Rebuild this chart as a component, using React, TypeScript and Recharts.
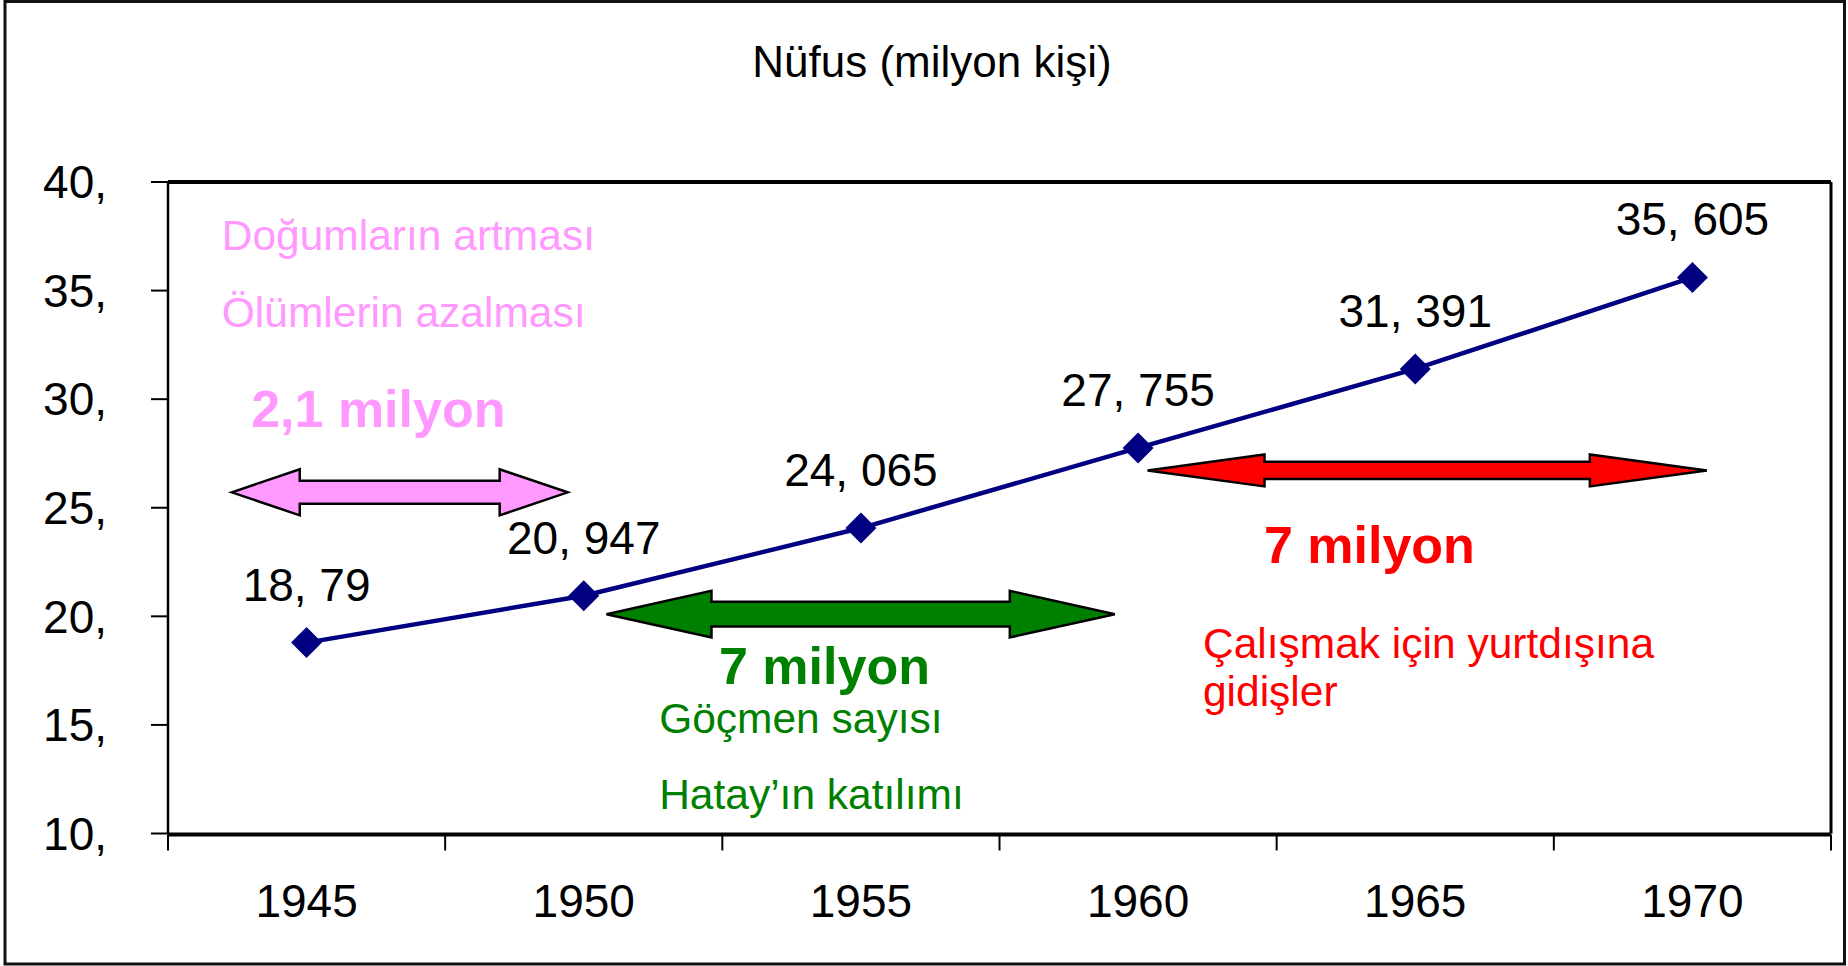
import React from 'react';
import { LineChart, Line, XAxis, YAxis, ReferenceLine, ReferenceDot, LabelList } from 'recharts';

const chartTitle = 'Nüfus (milyon kişi)';
const years = [1945, 1950, 1955, 1960, 1965, 1970];
const population = [18.79, 20.947, 24.065, 27.755, 31.391, 35.605];
const pointLabels = ['18, 79', '20, 947', '24, 065', '27, 755', '31, 391', '35, 605'];
const yTicks = [10, 15, 20, 25, 30, 35, 40];
const yDomain = [10, 40];
const xBoundaryTicks = [1942.5, 1947.5, 1952.5, 1957.5, 1962.5, 1967.5, 1972.5];
const xDomain = [1942.5, 1972.5];

// double arrows (data space): start year, end year, level
const arrowStart = [1943.65, 1950.41, 1960.17];
const arrowEnd = [1949.71, 1959.58, 1970.26];
const arrowLevel = [25.71, 20.1, 26.72];

// annotation texts (data space anchor: left x year, baseline value)
const noteTexts = [
  'Doğumların artması',
  'Ölümlerin azalması',
  '2,1 milyon',
  '7 milyon',
  'Göçmen sayısı',
  'Hatay’ın katılımı',
  '7 milyon',
  'Çalışmak için yurtdışına',
  'gidişler',
];
const noteX = [1943.47, 1943.47, 1944.0, 1952.44, 1951.36, 1951.36, 1962.27, 1961.17, 1961.17];
const noteY = [36.89, 33.34, 28.74, 16.88, 14.65, 11.13, 22.47, 18.1, 15.88];

// styles
const FONT = '"Liberation Sans", Arial, Helvetica, sans-serif';
const PINK = '#FF99FF';
const GREEN = '#008000';
const RED = '#FF0000';
const NAVY = '#000080';
const LABEL_SIZE = 46;
const arrowStyles = [
  { fill: PINK, head: 68, headHalf: 23, shaftHalf: 11.5 },
  { fill: GREEN, head: 105, headHalf: 23.3, shaftHalf: 12.3 },
  { fill: RED, head: 117, headHalf: 16, shaftHalf: 8.7 },
];
const noteStyles = [
  { fill: PINK, size: 42.5, weight: 400 },
  { fill: PINK, size: 42.5, weight: 400 },
  { fill: PINK, size: 52, weight: 700 },
  { fill: GREEN, size: 52, weight: 700 },
  { fill: GREEN, size: 42.5, weight: 400 },
  { fill: GREEN, size: 42.5, weight: 400 },
  { fill: RED, size: 52, weight: 700 },
  { fill: RED, size: 42.5, weight: 400 },
  { fill: RED, size: 42.5, weight: 400 },
];

const data = years.map((year, i) => ({ year, pop: population[i], label: pointLabels[i] }));

const ArrowShape = (props: any, st: any) => {
  const { x1, x2, y1 } = props;
  if (x1 == null || x2 == null || y1 == null) return <g />;
  const l = Math.min(x1, x2);
  const r = Math.max(x1, x2);
  const y = y1;
  const { head, headHalf, shaftHalf } = st;
  const pts = [
    [l, y],
    [l + head, y - headHalf],
    [l + head, y - shaftHalf],
    [r - head, y - shaftHalf],
    [r - head, y - headHalf],
    [r, y],
    [r - head, y + headHalf],
    [r - head, y + shaftHalf],
    [l + head, y + shaftHalf],
    [l + head, y + headHalf],
  ]
    .map((p) => p.join(','))
    .join(' ');
  return <polygon points={pts} fill={st.fill} stroke="#000" strokeWidth={2.5} strokeLinejoin="miter" />;
};

const Diamond = (p: any) => {
  const { cx, cy, index } = p;
  if (cx == null || cy == null) return <g key={index} />;
  const h = 15.5;
  return (
    <polygon
      key={`d${index}`}
      points={`${cx},${cy - h} ${cx + h},${cy} ${cx},${cy + h} ${cx - h},${cy}`}
      fill={NAVY}
    />
  );
};

const YearTick = (p: any) => (
  <text
    x={p.x}
    y={p.y + 83}
    textAnchor="middle"
    fill="#000"
    fontSize={LABEL_SIZE}
    fontFamily={FONT}
  >
    {p.payload.value}
  </text>
);

const EmptyTick = () => <g />;

export default function App() {
  return (
    <div style={{ position: 'absolute', left: 0, top: 0, width: 1848, height: 966, background: '#fff' }}>
      <LineChart
        width={1848}
        height={966}
        data={data}
        margin={{ top: 182, right: 17, bottom: 31.5, left: 68 }}
      >
        <XAxis
          type="number"
          dataKey="year"
          domain={xDomain}
          allowDataOverflow
          ticks={years}
          interval={0}
          tick={YearTick}
          tickLine={false}
          axisLine={false}
          tickSize={0}
          tickMargin={0}
          height={1}
        />
        <XAxis
          xAxisId="ticks"
          type="number"
          dataKey="year"
          domain={xDomain}
          allowDataOverflow
          ticks={xBoundaryTicks}
          interval={0}
          tick={EmptyTick}
          tickSize={16}
          tickLine={{ stroke: '#000', strokeWidth: 2 }}
          axisLine={{ stroke: '#000', strokeWidth: 4 }}
          height={100}
        />
        <YAxis
          type="number"
          domain={yDomain}
          allowDataOverflow
          ticks={yTicks}
          interval={0}
          width={100}
          tickSize={17}
          tickMargin={44}
          tickFormatter={(v: number) => `${v},`}
          tick={{ fill: '#000', fontSize: LABEL_SIZE, fontFamily: FONT }}
          tickLine={{ stroke: '#000', strokeWidth: 2 }}
          axisLine={{ stroke: '#000', strokeWidth: 2.5 }}
        />
        <ReferenceLine y={40} stroke="#000" strokeWidth={4} />
        <ReferenceLine x={xDomain[1]} stroke="#000" strokeWidth={3} />
        {arrowStart.map((s, i) => (
          <ReferenceLine
            key={`a${i}`}
            segment={[
              { x: s, y: arrowLevel[i] },
              { x: arrowEnd[i], y: arrowLevel[i] },
            ]}
            shape={(p: any) => ArrowShape(p, arrowStyles[i])}
          />
        ))}
        {noteTexts.map((t, i) => (
          <ReferenceDot
            key={`n${i}`}
            x={noteX[i]}
            y={noteY[i]}
            r={0}
            shape={(p: any) => (
              <text
                x={p.cx}
                y={p.cy}
                fill={noteStyles[i].fill}
                fontSize={noteStyles[i].size}
                fontWeight={noteStyles[i].weight}
                fontFamily={FONT}
              >
                {t}
              </text>
            )}
          />
        ))}
        <Line
          dataKey="pop"
          stroke={NAVY}
          strokeWidth={4.5}
          dot={Diamond}
          activeDot={false}
          isAnimationActive={false}
        >
          <LabelList
            dataKey="label"
            position="top"
            offset={42}
            fill="#000"
            fontSize={LABEL_SIZE}
            fontFamily={FONT}
          />
        </Line>
      </LineChart>
      <svg
        width={1848}
        height={966}
        style={{ position: 'absolute', left: 0, top: 0, pointerEvents: 'none' }}
      >
        <rect x={5} y={1.5} width={1839.5} height={962.5} fill="none" stroke="#111" strokeWidth={3} />
        <text x={932} y={77} textAnchor="middle" fill="#000" fontSize={44} fontFamily={FONT}>
          {chartTitle}
        </text>
      </svg>
    </div>
  );
}
